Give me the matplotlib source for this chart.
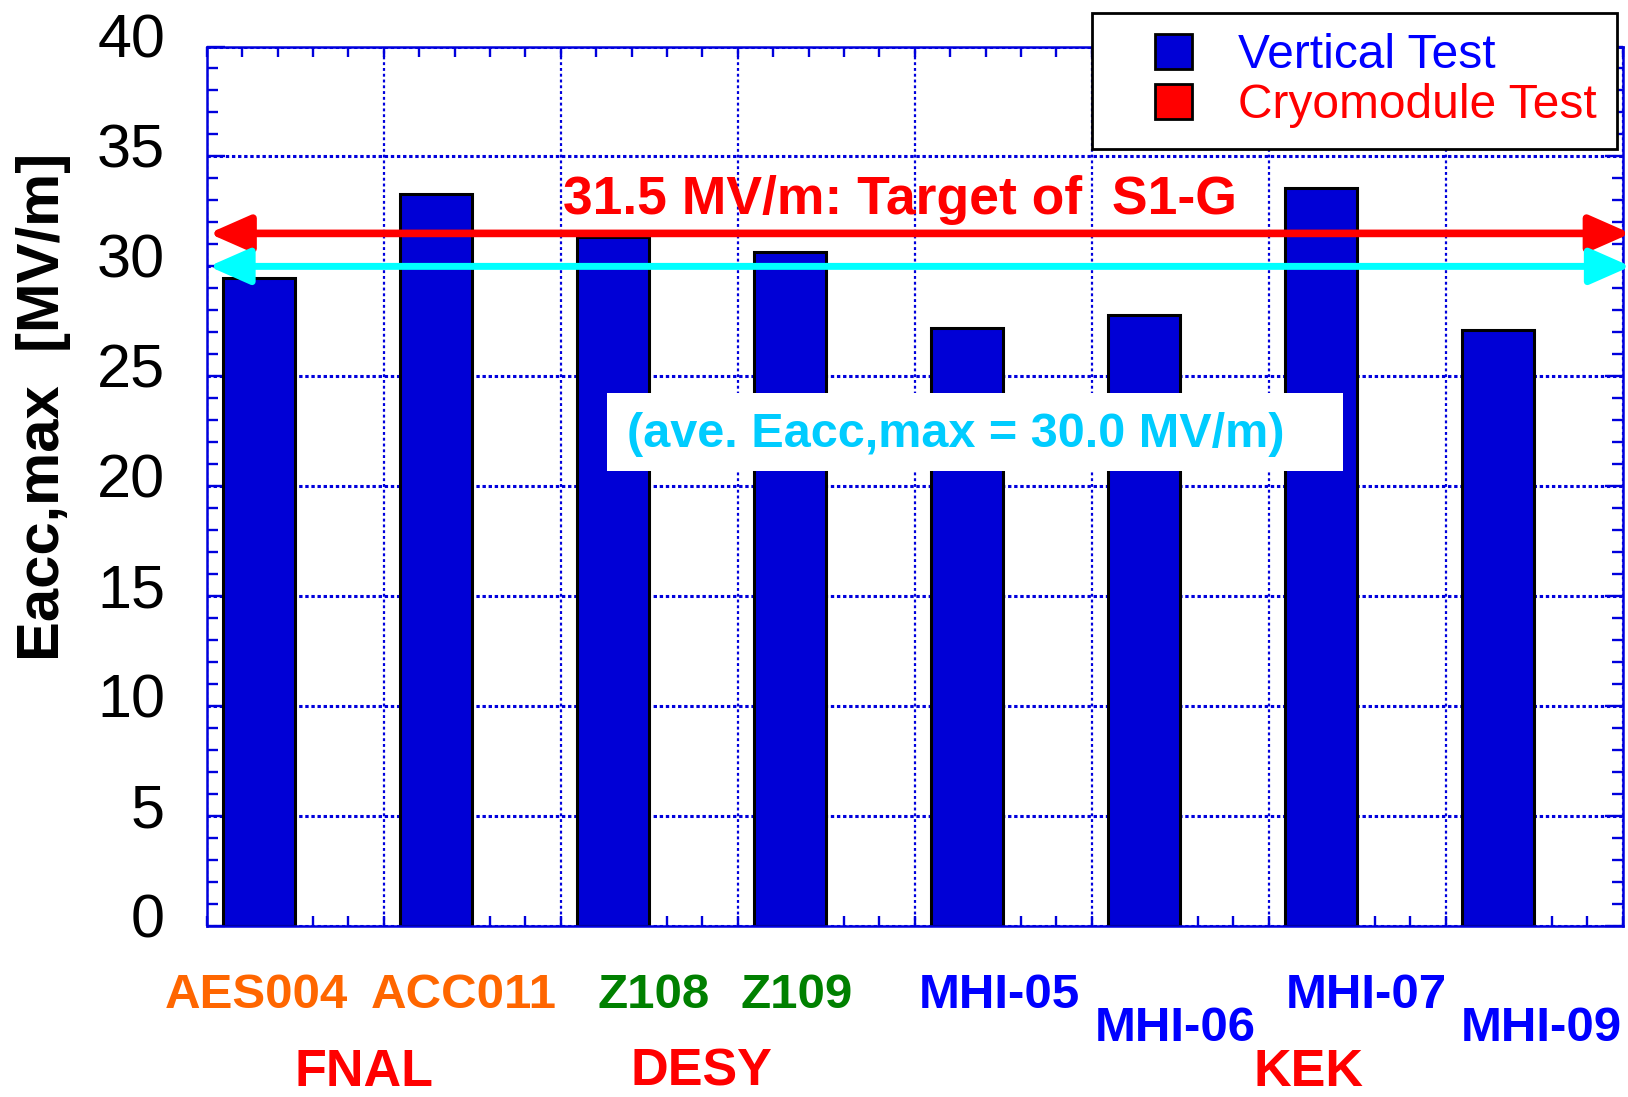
import numpy as np
import matplotlib
matplotlib.use("Agg")
import matplotlib.pyplot as plt
from matplotlib.patches import Patch, Rectangle
from matplotlib.legend_handler import HandlerPatch
from matplotlib.transforms import ScaledTranslation, blended_transform_factory
from matplotlib.ticker import MultipleLocator

# ---------------- data ----------------
cavities = ["AES004", "ACC011", "Z108", "Z109", "MHI-05", "MHI-06", "MHI-07", "MHI-09"]
labs = ["FNAL", "DESY", "KEK"]
vertical_test = [29.45, 33.3, 31.35, 30.65, 27.2, 27.8, 33.55, 27.1]
target = 31.5
average = 30.0
yticks = [0, 5, 10, 15, 20, 25, 30, 35, 40]
legend_labels = ["Vertical Test", "Cryomodule Test"]
target_label = "31.5 MV/m: Target of  S1-G"
average_label = "(ave. Eacc,max = 30.0 MV/m)"
ylabel = "Eacc,max  [MV/m]"

# ---------------- style / layout ----------------
FONT = "Liberation Sans"
BLUE_AX = "#0000dd"
BAR_BLUE = "#0000d6"
cav_colors = ["#ff6600", "#ff6600", "#008000", "#008000",
              "#0000ff", "#0000ff", "#0000ff", "#0000ff"]
label_dx = [-0.016, 0.156, 0.229, 0.037, 0.181, 0.176, 0.255, 0.247]
label_row = [0, 0, 0, 0, 0, 1, 0, 1]
row_y = [1 - 1008.3 / 1097, 1 - 1040.7 / 1097]
lab_x = [0.889, 2.793, 6.225]
lab_y = 1 - 1086 / 1097
bar_offset = 0.295
bar_width = 0.41

W, H = 1628, 1097
fig = plt.figure(figsize=(W / 100, H / 100), dpi=100)
left, right, top, bottom = 206.7, 1622.7, 46.5, 926.0
ax = fig.add_axes([left / W, 1 - bottom / H, (right - left) / W, (bottom - top) / H])

x = np.arange(len(cavities))
ax.bar(x + bar_offset, vertical_test, width=bar_width, color=BAR_BLUE,
       edgecolor="black", linewidth=2.2, zorder=2)

ax.set_xlim(0, len(cavities))
ax.set_ylim(0, 40)
ax.set_axisbelow(True)

ax.xaxis.set_major_locator(MultipleLocator(1))
ax.xaxis.set_minor_locator(MultipleLocator(0.2))
ax.set_yticks(yticks)
ax.yaxis.set_minor_locator(MultipleLocator(1))

ax.yaxis.grid(True, which="major", color=BLUE_AX, lw=2.2, linestyle=(0, (1.1, 0.9)))
ax.xaxis.grid(True, which="major", color=BLUE_AX, lw=1.6, linestyle=(0, (1.3, 1.3)))

for sp in ax.spines.values():
    sp.set_color(BLUE_AX)
    sp.set_linewidth(1.8)

ax.tick_params(axis="both", which="both", direction="in", top=True, right=True,
               color=BLUE_AX, width=1.7)
ax.tick_params(axis="y", which="major", length=13, pad=30, labelsize=44, labelcolor="black")
ax.tick_params(axis="y", which="minor", length=8)
ax.tick_params(axis="x", which="both", length=7.5, labelbottom=False)
for lbl in ax.get_yticklabels():
    lbl.set_fontfamily(FONT)
offset = ScaledTranslation(0, 11 / 100, fig.dpi_scale_trans)
for lbl in ax.get_yticklabels():
    lbl.set_transform(lbl.get_transform() + offset)

# target and average arrows
for yv, col, lw in [(target, "#ff0000", 5.5), (average, "#00ffff", 5.0)]:
    ax.annotate("", xy=(8.045, yv), xytext=(0.012, yv), xycoords="data",
                textcoords="data", annotation_clip=False, zorder=5,
                arrowprops=dict(arrowstyle="<|-|>,head_length=2.5,head_width=1.1",
                                color=col, lw=lw, mutation_scale=10,
                                shrinkA=0, shrinkB=0))

ax.text(3.918, 32.39, target_label, ha="center", va="baseline", color="#ff0000",
        fontsize=38.5, fontweight="bold", family=FONT, zorder=6)

ax.add_patch(Rectangle((2.261, 20.71), 4.157, 3.54, facecolor="white",
                       edgecolor="none", zorder=4))
ax.text(4.232, 21.78, average_label, ha="center", va="baseline", color="#00ccff",
        fontsize=35, fontweight="bold", family=FONT, zorder=6)

# category labels
bt = blended_transform_factory(ax.transData, fig.transFigure)
for i, name in enumerate(cavities):
    ax.text(i + bar_offset + label_dx[i], row_y[label_row[i]], name, transform=bt,
            ha="center", va="baseline", fontsize=35.5, fontweight="bold",
            family=FONT, color=cav_colors[i])
for lx, name in zip(lab_x, labs):
    ax.text(lx, lab_y, name, transform=bt, ha="center", va="baseline",
            fontsize=37.5, fontweight="bold", family=FONT, color="#ff0000")

fig.text(43.4 / W, 1 - 406.5 / H, ylabel, rotation=90, ha="center", va="center",
         fontsize=43, fontweight="bold", family=FONT, color="black")

# legend
SQ_W, SQ_H = 26.6, 25.2


def square(legend, orig_handle, xdescent, ydescent, width, height, fontsize):
    return Rectangle((-xdescent + width - SQ_W, -ydescent + (height - SQ_H) / 2),
                     SQ_W, SQ_H)


handles = [Patch(facecolor=BAR_BLUE, edgecolor="black", lw=2.0),
           Patch(facecolor="#ff0000", edgecolor="black", lw=2.0)]
leg = fig.legend(handles, legend_labels,
                 handler_map={Patch: HandlerPatch(patch_func=square)},
                 loc="upper right", bbox_to_anchor=(1617 / W, 1 - 12.7 / H),
                 bbox_transform=fig.transFigure, borderaxespad=0,
                 prop={"family": FONT, "size": 34.5},
                 handlelength=1.64, handleheight=0.73, handletextpad=0.96,
                 borderpad=0.43, labelspacing=0.1, frameon=True, fancybox=False,
                 edgecolor="black", framealpha=1)
leg.get_frame().set_linewidth(2.0)
for t, c in zip(leg.get_texts(), ["#0000ff", "#ff0000"]):
    t.set_color(c)

fig.savefig("out.png", dpi=100)
